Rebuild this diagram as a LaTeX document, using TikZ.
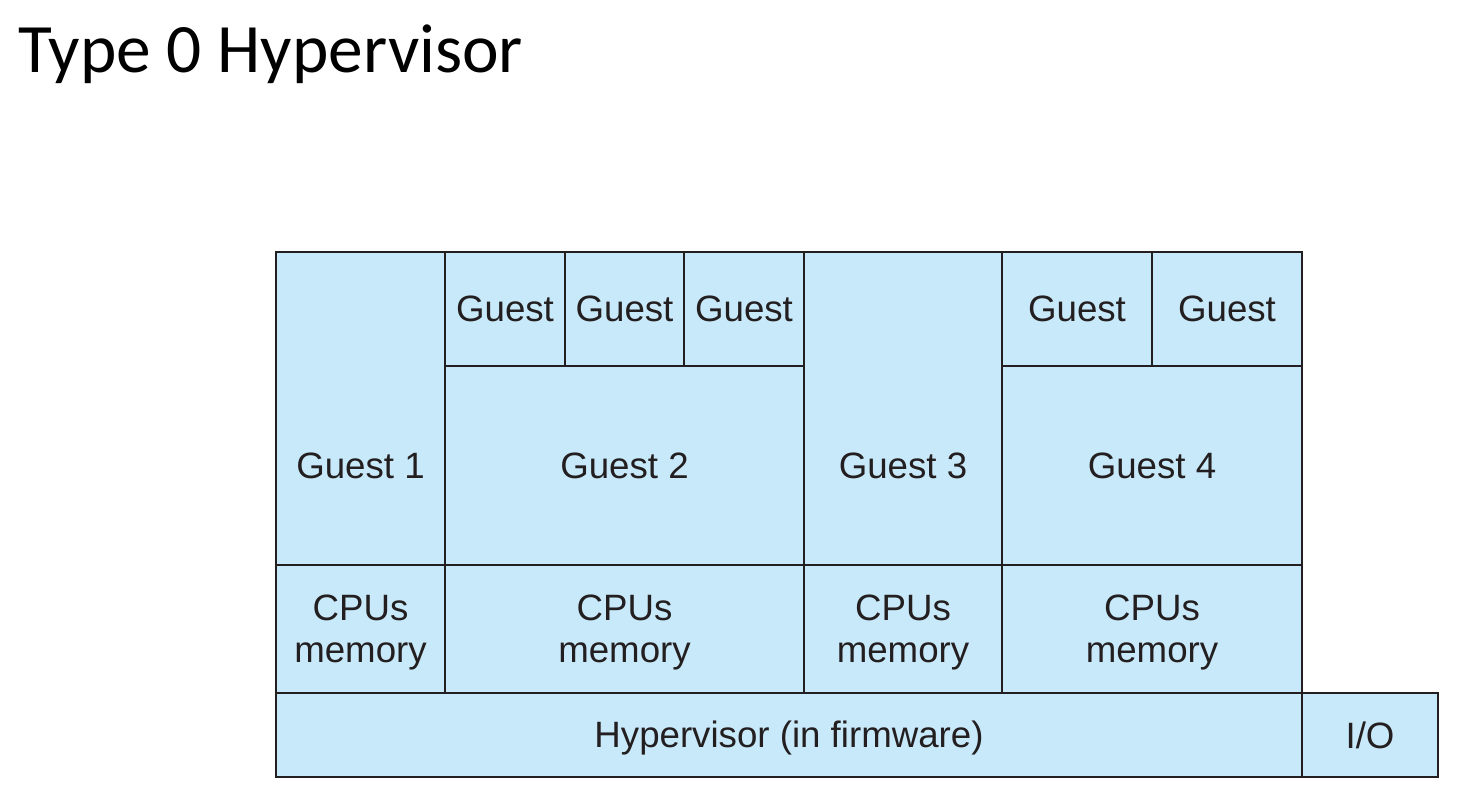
\documentclass[tikz,border=0pt]{standalone}
\usepackage{fontspec}
\setmainfont{Liberation Sans}
\newfontfamily\titlefont{Carlito}
\usetikzlibrary{fit}
\definecolor{cellblue}{RGB}{200,233,249}
\definecolor{ink}{RGB}{35,31,32}
\begin{document}
\begin{tikzpicture}[x=0.75pt,y=-0.75pt,
  cell/.style={draw=ink, line width=1.4pt, fill=cellblue, inner sep=0pt},
  lbl/.style={text=ink, align=center, inner sep=0pt,
    font=\fontsize{27.5}{31}\selectfont},
  lbltwo/.style={lbl, yshift=-2.5pt}]
\useasboundingbox (0,0) rectangle (1473,809);
\node[anchor=base west, inner sep=0pt, text=black, font=\titlefont\fontsize{52}{60}\selectfont] (title) at (18,73) {Type 0 Hypervisor};
% guests
\node[cell, fit={(276,252) (445,565)}] (g1) {};
\node[cell, fit={(445,366) (804,565)}] (g2) {};
\node[cell, fit={(445,252) (565,366)}] (g2a) {};
\node[cell, fit={(565,252) (684,366)}] (g2b) {};
\node[cell, fit={(684,252) (804,366)}] (g2c) {};
\node[cell, fit={(804,252) (1002,565)}] (g3) {};
\node[cell, fit={(1002,366) (1302,565)}] (g4) {};
\node[cell, fit={(1002,252) (1152,366)}] (g4a) {};
\node[cell, fit={(1152,252) (1302,366)}] (g4b) {};
\node[lbl] (g1t) at (g1.center |- g2.center) {Guest 1};
\node[lbl] (g2t) at (g2.center) {Guest 2};
\node[lbl] (g3t) at (g3.center |- g2.center) {Guest 3};
\node[lbl] (g4t) at (g4.center) {Guest 4};
\node[lbl] at (g2a.center) {Guest};
\node[lbl] at (g2b.center) {Guest};
\node[lbl] at (g2c.center) {Guest};
\node[lbl] at (g4a.center) {Guest};
\node[lbl] at (g4b.center) {Guest};
% cpus
\node[cell, fit={(276,565) (445,693)}] (c1) {};
\node[cell, fit={(445,565) (804,693)}] (c2) {};
\node[cell, fit={(804,565) (1002,693)}] (c3) {};
\node[cell, fit={(1002,565) (1302,693)}] (c4) {};
\node[lbltwo] at (c1.center) {CPUs\\memory};
\node[lbltwo] at (c2.center) {CPUs\\memory};
\node[lbltwo] at (c3.center) {CPUs\\memory};
\node[lbltwo] at (c4.center) {CPUs\\memory};
% hypervisor
\node[cell, fit={(276,693) (1302,777)}] (hv) {};
\node[cell, fit={(1302,693) (1438,777)}] (io) {};
\node[lbl, yshift=-2.5pt] at (hv.center) {Hypervisor (in firmware)};
\node[lbl] at (io.center) {I/O};
\end{tikzpicture}
\end{document}
